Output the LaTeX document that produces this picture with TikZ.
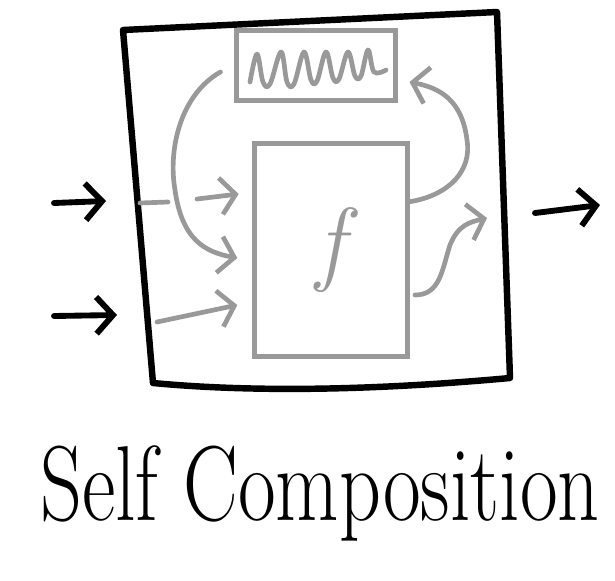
\documentclass[tikz,border=0pt]{standalone}
\usetikzlibrary{positioning, arrows.meta, calc}

\begin{document}
\begin{tikzpicture}[
    x=0.03cm, y=-0.03cm,
    node distance=1.1cm,
    box/.style={draw=black!40, line width=4pt, rectangle, minimum width=4.6cm, minimum height=6.4cm, text=black!40, font=\fontsize{80}{80}\selectfont\itshape},
    tape/.style={draw=black!40, line width=4pt, rectangle, minimum width=4.75cm, minimum height=2.1cm},
    frame/.style={draw, line width=5.5pt, line join=round},
    flow/.style={draw=black!40, line width=4pt, line cap=round, -{Straight Barb[length=4.5mm, width=11mm]}},
    wire/.style={draw=black!40, line width=4pt, line cap=round},
    signal/.style={line width=5pt, line cap=round, -{Straight Barb[length=5mm, width=11mm]}}
]
\useasboundingbox (0,0) rectangle (615,580);

% Nodes
\node (f) [box] at (331,250) {f};
\node (mem) [tape, above=1.15cm of f, xshift=-0.45cm] {};
\node (title) [anchor=base, font=\fontsize{70}{70}\selectfont] at (320,520) {\scalebox{1}[1.3]{Self Composition}};

% Outer box
\coordinate (tl) at (123,30);
\coordinate (tr) at (497,12);
\coordinate (br) at (510,378);
\coordinate (bl) at (153,383);
\draw [frame] (tl) -- (tr) -- (br) .. controls (400,388) and (270,394) .. (bl) -- cycle;

% Outer inputs / output
\coordinate (in1) at (54,203);
\coordinate (in1e) at (106,201);
\coordinate (in2) at (54,316);
\coordinate (in2e) at (117,315);
\coordinate (out) at (535,213);
\coordinate (oute) at (600,205);
\draw [signal] (in1) -- (in1e);
\draw [signal] (in2) -- (in2e);
\draw [signal] (out) -- (oute);

% Tape scribble
\draw [wire, line join=round] plot[smooth, tension=0.6] coordinates {(250,82) (257,54) (263,82) (270,84) (281,52) (287,82) (294,84) (304,52) (311,80) (317,81) (326,52) (333,78) (339,79) (348,52) (355,76) (361,76) (368,50) (374,72) (386,70)};

% Connections
\coordinate (d1) at (140,203);
\coordinate (d2) at (168,202);
\coordinate (a1) at (197,199);
\coordinate (a3) at (157,322);
\draw [wire] (d1) -- (d2);
\draw [flow] (a1) -- ([shift={(-0.4cm,1.68cm)}]f.west);
\draw [flow] (a3) -- ([shift={(-0.44cm,-1.65cm)}]f.west);
\draw [flow] ([shift={(-0.42cm,-0.2cm)}]mem.west) .. controls (180,95) and (168,150) .. (175,190) .. controls (182,240) and (205,252) .. ([shift={(-0.44cm,-0.24cm)}]f.west);
\draw [flow] ([yshift=1.45cm]f.east) .. controls (450,195) and (472,170) .. (467,140) .. controls (462,100) and (440,88) .. ([shift={(0.36cm,-0.5cm)}]mem.east);
\draw [flow] ([shift={(0.15cm,-1.35cm)}]f.east) .. controls (440,295) and (442,270) .. (450,245) .. controls (458,225) and (470,222) .. (487,218);

\end{tikzpicture}
\end{document}
